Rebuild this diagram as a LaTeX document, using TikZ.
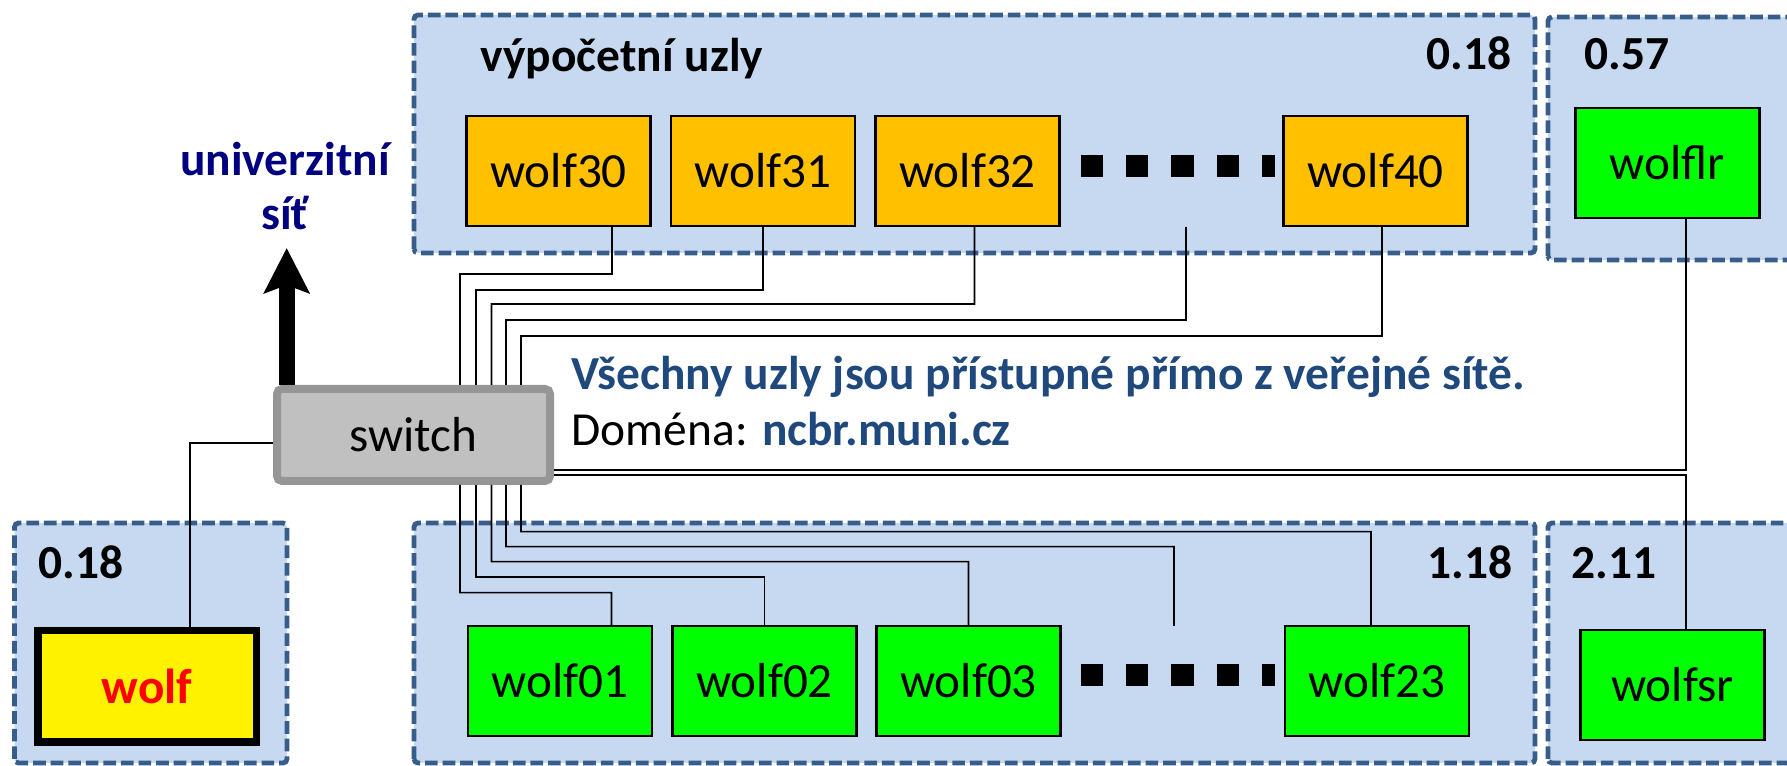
\documentclass[tikz,border=0pt]{standalone}
\usepackage{fontspec}
\setmainfont{Carlito}
\usetikzlibrary{arrows.meta}
\definecolor{grpfill}{HTML}{C6D9F1}
\definecolor{grpline}{HTML}{385D8A}
\definecolor{nodeorange}{HTML}{FFC000}
\definecolor{nodegreen}{HTML}{00FF00}
\definecolor{swfill}{HTML}{C0C0C0}
\definecolor{swline}{HTML}{969696}
\definecolor{netblue}{HTML}{000080}
\definecolor{txtblue}{HTML}{1F497D}
\tikzset{
  grp/.style={draw=grpline, fill=grpfill, line width=0.048cm, dash pattern=on 3.6pt off 1.4pt, rounded corners=0.4mm},
  pc/.style={draw, line width=0.6pt, minimum width=1.84cm, minimum height=1.10cm, inner sep=0pt, font=\fontsize{14}{17}\selectfont},
  comp/.style={pc, fill=nodeorange},
  fast/.style={pc, fill=nodegreen},
  lbl/.style={inner sep=0pt, font=\fontsize{13.5}{16}\selectfont\bfseries},
  wire/.style={line width=0.45pt},
  more/.style={line width=0.22cm, dash pattern=on 0.225cm off 0.229cm},
}
\begin{document}
\begin{tikzpicture}
  \clip (0,0) rectangle (17.87,7.66);
  % skupiny
  \draw[grp] (4.14,5.13) rectangle (15.35,7.51);
  \draw[grp] (15.48,5.06) rectangle (18.2,7.49);
  \draw[grp] (0.145,0.03) rectangle (2.87,2.43);
  \draw[grp] (4.14,0.03) rectangle (15.35,2.43);
  \draw[grp] (15.48,0.03) rectangle (18.2,2.43);
  \node[lbl, anchor=base west] (title) at (4.80,6.94) {výpočetní uzly};
  \node[lbl, anchor=base east] (ratio1) at (15.12,6.96) {0.18};
  \node[lbl, anchor=base west] (ratio2) at (15.84,6.96) {0.57};
  \node[lbl, anchor=base west] (ratio3) at (0.38,1.87) {0.18};
  \node[lbl, anchor=base east] (ratio4) at (15.13,1.87) {1.18};
  \node[lbl, anchor=base west] (ratio5) at (15.71,1.87) {2.11};
  % uzly
  \node[comp] (wolf30) at (5.585,5.95) {wolf30};
  \node[comp] (wolf31) at (7.63,5.95) {wolf31};
  \node[comp] (wolf32) at (9.675,5.95) {wolf32};
  \node[comp] (wolf40) at (13.755,5.95) {wolf40};
  \node[fast] (wolflr) at (16.675,6.03) {wolflr};
  \node[fast] (wolf01) at (5.60,0.85) {wolf01};
  \node[fast] (wolf02) at (7.645,0.85) {wolf02};
  \node[fast] (wolf03) at (9.685,0.85) {wolf03};
  \node[fast] (wolf23) at (13.77,0.85) {wolf23};
  \node[fast] (wolfsr) at (16.725,0.81) {wolfsr};
  \draw[more] (10.805,6.00) -- (12.75,6.00);
  \draw[more] (10.805,0.905) -- (12.75,0.905);
  \coordinate (dotsT) at (11.86,5.39);
  \coordinate (dotsB) at (11.74,1.40);
  \node[draw, line width=0.075cm, fill=yellow, text=red, font=\fontsize{14}{17}\selectfont\bfseries,
        minimum width=2.185cm, minimum height=1.115cm] (wolf) at (1.47,0.795) {wolf};
  \node[draw=swline, fill=swfill, line width=0.08cm, rounded corners=0.5mm, minimum width=2.73cm,
        minimum height=0.92cm, font=\fontsize{14}{17}\selectfont] (switch) at (4.135,3.31) {switch};
  % texty
  \node[anchor=base, align=center, text=netblue, inner sep=0pt,
        font=\fontsize{13.5}{15.6}\selectfont\bfseries] (unisit) at (2.85,5.36) {univerzitní\\síť};
  \node[anchor=base west, align=left, inner sep=0pt, font=\fontsize{13.5}{16.2}\selectfont] (note) at (5.71,3.20)
        {\textcolor{txtblue}{\textbf{Všechny uzly jsou přístupné přímo z veřejné sítě.}}\\
         Doména: \textcolor{txtblue}{\textbf{ncbr.muni.cz}}};
  \coordinate (net) at (2.867,5.18);
  \draw[line width=0.157cm, -{Stealth[length=0.45cm, width=0.45cm, inset=0.08cm]}] (switch.north -| net) -- (net);
  % kabely
  \draw[wire] ([xshift=5.35mm]wolf30.south) |- (4.60,4.92) -- ([xshift=4.65mm]switch.north);
  \draw[wire] (wolf31.south) |- (4.76,4.76) -- ([xshift=6.25mm]switch.north);
  \draw[wire] ([xshift=0.7mm]wolf32.south) |- (4.915,4.62) -- ([xshift=7.8mm]switch.north);
  \draw[wire] (dotsT) |- (5.06,4.46) -- ([xshift=9.25mm]switch.north);
  \draw[wire] ([xshift=0.65mm]wolf40.south) |- (5.21,4.30) -- ([xshift=10.75mm]switch.north);
  \draw[wire] ([xshift=4.65mm]switch.south) -- (4.60,1.733) -| ([xshift=5.15mm]wolf01.north);
  \draw[wire] ([xshift=6.25mm]switch.south) -- (4.76,1.89) -| (wolf02.north);
  \draw[wire] ([xshift=7.8mm]switch.south) -- (4.915,2.043) -| (wolf03.north);
  \draw[wire] ([xshift=9.25mm]switch.south) -- (5.06,2.193) -| (dotsB);
  \draw[wire] ([xshift=10.75mm]switch.south) -- (5.21,2.343) -| ([xshift=-0.6mm]wolf23.north);
  \draw[wire] ([yshift=-3.5mm]switch.east) -| ([xshift=1.85mm]wolflr.south);
  \draw[wire] ([yshift=-4mm]switch.east) -| ([xshift=1.35mm]wolfsr.north);
  \draw[wire] ([xshift=4.3mm]wolf.north) |- ([yshift=-0.8mm]switch.west);
\end{tikzpicture}
\end{document}
